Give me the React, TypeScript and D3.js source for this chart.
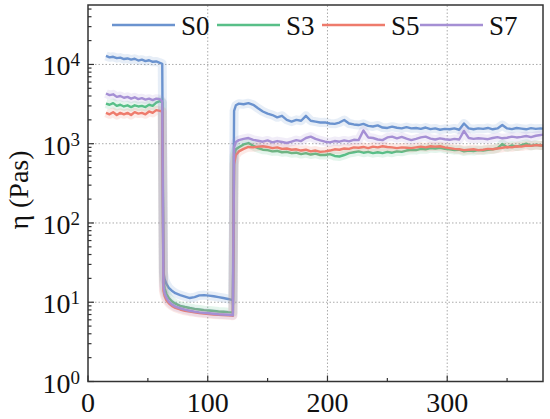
import React from 'react';
import * as d3 from 'd3';

// time axis (s), split in the three shear steps
const timeStep1 = [15, 18, 21, 24, 27, 30, 33, 36, 39, 42, 45, 48, 51, 54, 57, 60, 62];
const timeStep2 = [63, 64, 65.5, 67.5, 70, 73, 77, 81, 85, 89, 93, 97, 101, 105, 109, 113, 117, 120, 121];
const timeStep3 = [
  122, 123.5, 126, 130, 134, 138, 142, 146, 150, 154, 158, 162, 166, 170, 174, 178, 182, 186, 190, 194,
  198, 202, 206, 210, 214, 218, 222, 226, 230, 234, 238, 242, 246, 250, 254, 258, 262, 266, 270, 274,
  278, 282, 286, 290, 294, 298, 302, 306, 310, 314, 318, 322, 326, 330, 334, 338, 342, 346, 350, 354,
  358, 362, 366, 370, 374, 378, 380,
];

const s0Step1 = [12800, 12300, 12500, 12000, 12200, 11700, 11900, 11500, 11800, 11200, 11500, 11000, 11300, 10800, 10900, 10500, 10200];
const s0Step2 = [24, 19.5, 17, 15.2, 14, 13, 12.3, 11.8, 11.3, 11.6, 12.2, 12.3, 12.1, 11.9, 11.6, 11.3, 11, 10.7, 10.5];
const s0Step3 = [
  2600, 3050, 3200, 3150, 3250, 3100, 2800, 2550, 2400, 2300, 2150, 2250, 2000, 1900, 2000, 1950, 2250, 1950, 1900, 1850,
  1860, 1800, 1780, 1850, 1990, 1800, 1750, 1720, 1780, 1680, 1650, 1700, 1600, 1580, 1640, 1590, 1560, 1620, 1560, 1580,
  1540, 1600, 1530, 1560, 1500, 1540, 1520, 1560, 1500, 1800, 1560, 1520, 1560, 1540, 1580, 1520, 1560, 1720, 1560, 1530,
  1580, 1550, 1520, 1570, 1540, 1560, 1550,
];

const s3Step1 = [3200, 3100, 3250, 3000, 3100, 2950, 3050, 2900, 3050, 2950, 3000, 2900, 3100, 3000, 3300, 3450, 3300];
const s3Step2 = [19, 15, 12.8, 11.3, 10.3, 9.6, 9.0, 8.7, 8.45, 8.25, 8.1, 7.95, 7.85, 7.75, 7.65, 7.6, 7.5, 7.45, 7.4];
const s3Step3 = [
  700, 850, 900, 980, 1020, 940, 880, 840, 830, 800, 810, 780, 790, 760, 770, 740, 760, 730, 750, 720,
  720, 740, 700, 690, 720, 760, 780, 800, 770, 790, 760, 780, 760, 790, 770, 800, 790, 820, 840, 830,
  860, 850, 880, 870, 890, 860, 850, 830, 840, 800, 820, 810, 830, 820, 840, 850, 880, 990, 900, 950,
  920, 960, 1000, 940, 970, 950, 950,
];

const s5Step1 = [2450, 2350, 2500, 2300, 2450, 2350, 2450, 2300, 2500, 2400, 2450, 2350, 2550, 2450, 2650, 2600, 2550];
const s5Step2 = [14, 12, 10.6, 9.7, 9.0, 8.5, 8.1, 7.8, 7.6, 7.45, 7.3, 7.2, 7.1, 7.0, 6.95, 6.9, 6.85, 6.8, 6.75];
const s5Step3 = [
  550, 720, 800, 860, 910, 900, 920, 930, 910, 880, 900, 860, 870, 840, 850, 820, 840, 800, 820, 790,
  800, 820, 850, 840, 870, 860, 900, 890, 910, 880, 920, 900, 930, 910, 900, 880, 900, 890, 880, 900,
  920, 900, 930, 920, 930, 900, 880, 860, 850, 830, 840, 850, 830, 840, 860, 850, 870, 890, 910, 900,
  930, 920, 950, 940, 960, 950, 950,
];

const s7Step1 = [4300, 4100, 4200, 3900, 4000, 3800, 3900, 3700, 3850, 3650, 3750, 3600, 3700, 3550, 3700, 3650, 3400];
const s7Step2 = [16, 13, 11.4, 10.2, 9.4, 8.8, 8.4, 8.05, 7.8, 7.6, 7.45, 7.35, 7.25, 7.15, 7.05, 7.0, 6.95, 6.9, 6.85];
const s7Step3 = [
  900, 1050, 1110, 1150, 1180, 1120, 1090, 1060, 1100, 1040, 1080, 1050, 1020, 1060, 1110, 1080, 1180, 1230, 1150, 1100,
  1060, 1040, 1080, 1060, 1100, 1070, 1120, 1110, 1470, 1200, 1180, 1130, 1110, 1200, 1230, 1170, 1220, 1160, 1110, 1150,
  1200, 1230, 1160, 1130, 1170, 1140, 1120, 1150, 1130, 1450, 1180, 1150, 1170, 1160, 1140, 1180, 1210, 1170, 1190, 1230,
  1200, 1220, 1250, 1210, 1260, 1290, 1300,
];

const seriesNames = ['S0', 'S3', 'S5', 'S7'];
const seriesColors = ['#6b93cf', '#58bf88', '#ee7b6c', '#a58fd4'];

const xTicksMajor = [0, 100, 200, 300];
const xTicksMinor = [50, 150, 250, 350];
const yDecades = [0, 1, 2, 3, 4];

const W = 550;
const H = 419;
const margin = { top: 5, right: 7, bottom: 37.5, left: 88 };
const FONT = "Liberation Serif, DejaVu Serif, Times New Roman, serif";

const times = [...timeStep1, ...timeStep2, ...timeStep3];
const seriesValues = [
  [...s0Step1, ...s0Step2, ...s0Step3],
  [...s3Step1, ...s3Step2, ...s3Step3],
  [...s5Step1, ...s5Step2, ...s5Step3],
  [...s7Step1, ...s7Step2, ...s7Step3],
];

export default function App() {
  const x = d3.scaleLinear().domain([0, 380]).range([margin.left, W - margin.right]);
  const y = d3.scaleLog().domain([1, Math.pow(10, 4.75)]).range([H - margin.bottom, margin.top]);
  const x0 = margin.left;
  const x1 = W - margin.right;
  const y0 = H - margin.bottom;
  const y1 = margin.top;

  const line = d3.line<number>()
    .x((_, i) => x(times[i]))
    .y(d => y(d));

  const yTicks = y.ticks();
  const legendX = [112, 217, 322, 420];

  return (
    <svg width={W} height={H} style={{ position: 'absolute', left: 0, top: 0, background: '#fff' }}>
      <g fontFamily={FONT} style={{ fontFamily: FONT }}>
      {/* grid */}
      {xTicksMajor.filter(t => t > 0).map(t => (
        <line key={'gx' + t} x1={x(t)} x2={x(t)} y1={y0} y2={y1} stroke="#aaa" strokeWidth={1} strokeDasharray="1.5,2" />
      ))}
      {yDecades.filter(d => d > 0).map(d => (
        <line key={'gy' + d} x1={x0} x2={x1} y1={y(Math.pow(10, d))} y2={y(Math.pow(10, d))} stroke="#aaa" strokeWidth={1} strokeDasharray="1.5,2" />
      ))}

      {/* series: light band + line */}
      {seriesValues.map((vals, i) => (
        <g key={seriesNames[i]}>
          <path d={line(vals) || ''} fill="none" stroke={seriesColors[i]} strokeOpacity={0.16} strokeWidth={9} strokeLinejoin="round" />
          <path d={line(vals) || ''} fill="none" stroke={seriesColors[i]} strokeWidth={2.4} strokeLinejoin="round" />
        </g>
      ))}

      {/* frame */}
      <rect x={x0} y={y1} width={x1 - x0} height={y0 - y1} fill="none" stroke="#333" strokeWidth={1.5} />

      {/* y ticks */}
      {yTicks.map((t, i) => {
        const major = Math.abs(Math.log10(t) - Math.round(Math.log10(t))) < 1e-9;
        return <line key={'yt' + i} x1={x0} x2={x0 + (major ? 6 : 3.5)} y1={y(t)} y2={y(t)} stroke="#333" strokeWidth={1.2} />;
      })}
      {yDecades.map(d => (
        <text key={'yl' + d} x={80} y={y(Math.pow(10, d)) + 11} textAnchor="end" fontSize={28} fill="#111">
          10<tspan fontSize={19} dy={-9}>{d}</tspan>
        </text>
      ))}

      {/* x ticks */}
      {xTicksMajor.map(t => (
        <line key={'xt' + t} x1={x(t)} x2={x(t)} y1={y0} y2={y0 - 6} stroke="#333" strokeWidth={1.2} />
      ))}
      {xTicksMinor.map(t => (
        <line key={'xm' + t} x1={x(t)} x2={x(t)} y1={y0} y2={y0 - 3.5} stroke="#333" strokeWidth={1.2} />
      ))}
      {xTicksMajor.map(t => (
        <text key={'xl' + t} x={x(t)} y={412} textAnchor="middle" fontSize={28} fill="#111">{t}</text>
      ))}

      {/* y label */}
      <text transform="translate(28,190) rotate(-90)" textAnchor="middle" fontSize={28} fill="#111">η (Pas)</text>

      {/* legend */}
      {seriesNames.map((n, i) => (
        <g key={'lg' + n}>
          <line x1={legendX[i]} x2={legendX[i] + 63} y1={25} y2={25} stroke={seriesColors[i]} strokeWidth={2.6} />
          <text x={legendX[i] + 69} y={35} fontSize={27} fill="#111">{n}</text>
        </g>
      ))}
      </g>
    </svg>
  );
}
